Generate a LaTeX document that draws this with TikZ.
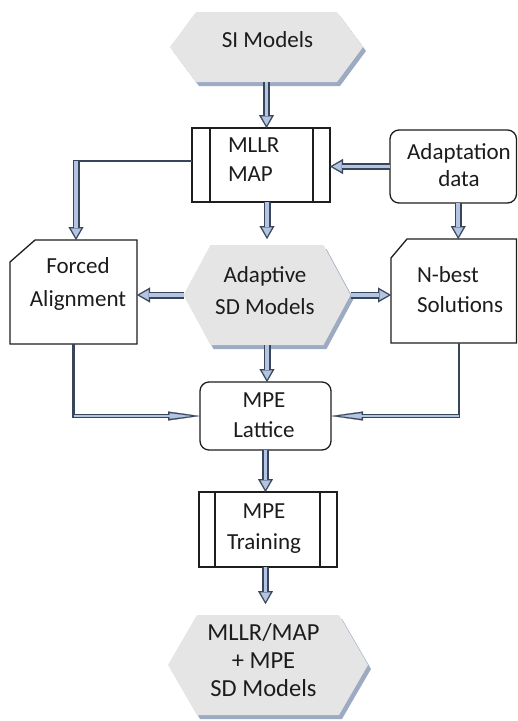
\documentclass[tikz,border=0pt]{standalone}
\usepackage{fontspec}
\setmainfont{Carlito}
\usetikzlibrary{arrows.meta,backgrounds}
\definecolor{arrdark}{HTML}{39465A}
\definecolor{arrfill}{HTML}{B3C5E3}
\definecolor{hexfill}{HTML}{E5E5E5}
\definecolor{hexshadow}{HTML}{9CAAC2}
\definecolor{boxline}{HTML}{1E1E1E}
\definecolor{txtcol}{HTML}{1C1C1C}

\newcommand{\fatarrow}[3][0pt]{%
  \draw[arrout, shorten >=#1] #2 -- #3;
  \draw[arrin, shorten >=#1+2.6pt] #2 -- #3;}
\newcommand{\slimarrow}[2]{%
  \draw[slimout] #1 -- #2;
  \draw[slimin] #1 -- #2;}
\newcommand{\drawhexagon}[2]{%
  \fill[hexshadow] ([shift={(3,4)}]#1.west) -- ([shift={(#2+3,4)}]#1.north west) -- ([shift={(-#2+3,4)}]#1.north east) -- ([shift={(3,4)}]#1.east) -- ([shift={(-#2+3,4)}]#1.south east) -- ([shift={(#2+3,4)}]#1.south west) -- cycle;
  \fill[hexfill] (#1.west) -- ([shift={(#2,0)}]#1.north west) -- ([shift={(-#2,0)}]#1.north east) -- (#1.east) -- ([shift={(-#2,0)}]#1.south east) -- ([shift={(#2,0)}]#1.south west) -- cycle;}

\begin{document}
\begin{tikzpicture}[x=1pt,y=-1pt,
  every node/.style={inner sep=0pt, outer sep=0pt},
  txt/.style={font=\fontsize{23}{#1}\selectfont, text=txtcol, align=center},
  txt/.default=30pt,
  bigtxt/.style={font=\fontsize{24.5}{#1}\selectfont, text=txtcol, align=center},
  procbox/.style={draw=boxline, line width=1.3pt},
  roundbox/.style={draw=boxline, line width=1.3pt, rounded corners=9pt},
  boxedge/.style={draw=boxline, line width=1.3pt, line join=miter},
  darkline/.style={draw=arrdark, line width=2.2pt},
  arrout/.style={draw=arrdark, line width=7pt, -{Triangle[width=15pt,length=13pt,line width=0.2pt]}},
  arrin/.style={draw=arrfill, line width=3.6pt, -{Triangle[width=10pt,length=9pt,line width=0.2pt]}},
  slimout/.style={draw=arrdark, line width=4.5pt, shorten <=-1.1pt, -{Triangle[width=9pt,length=32pt,line width=0.2pt]}},
  slimin/.style={draw=arrfill, line width=1.8pt, shorten >=8.5pt, -{Triangle[width=5.5pt,length=22pt,line width=0.2pt]}},
]
\useasboundingbox (0,0) rectangle (518,721);

% nodes
\node[minimum width=193pt, minimum height=70pt, label={[txt, shift={(1,-7)}]center:SI Models}] (si) at (266.5,47) {};
\node[procbox, minimum width=138pt, minimum height=74pt, label={[txt=29pt, align=left, anchor=west, shift={(36,-5.5)}]west:MLLR\\MAP}] (mllr) at (261,165) {};
\node[roundbox, minimum width=126.5pt, minimum height=73pt, label={[txt=27pt, shift={(5.75,-1)}]center:Adaptation\\data}] (adapt) at (453.25,166.5) {};
\node[minimum width=127pt, minimum height=104pt, label={[txt=33pt, shift={(4.5,-8.5)}]center:Forced\\Alignment}] (forced) at (73.5,292) {};
\node[minimum width=167pt, minimum height=100pt, label={[txt=32pt, shift={(-2,-4)}]center:Adaptive\\SD Models}] (adsd) at (267,295) {};
\node[minimum width=125.5pt, minimum height=104pt, label={[txt=30pt, align=left, anchor=west, shift={(26,-1)}]west:N-best\\Solutions}] (nbest) at (453.75,291) {};
\node[roundbox, minimum width=131pt, minimum height=68pt, label={[txt=30pt, shift={(-1.5,-1)}]center:MPE\\Lattice}] (lattice) at (265.5,416) {};
\node[procbox, minimum width=138pt, minimum height=75pt, label={[txt=31pt, shift={(-4,-0.5)}]center:MPE\\Training}] (train) at (268,529.5) {};
\node[minimum width=200pt, minimum height=100pt, label={[bigtxt=28pt, shift={(-4.5,-5)}]center:MLLR/MAP\\+ MPE\\SD Models}] (final) at (268,665) {};

% card outlines
\draw[boxedge] ([shift={(0,22)}]forced.north west) -- ([shift={(25,0)}]forced.north west) -- (forced.north east) -- (forced.south east) -- (forced.south west) -- cycle;
\draw[boxedge] ([shift={(0,19)}]nbest.north west) -- ([shift={(16,0)}]nbest.north west) -- (nbest.north east) -- (nbest.south east) -- (nbest.south west) -- cycle;

% process bars
\draw[boxedge] ([shift={(18,0)}]mllr.north west) -- ([shift={(18,0)}]mllr.south west);
\draw[boxedge] ([shift={(-17,0)}]mllr.north east) -- ([shift={(-17,0)}]mllr.south east);
\draw[boxedge] ([shift={(16,0)}]train.north west) -- ([shift={(16,0)}]train.south west);
\draw[boxedge] ([shift={(-17,0)}]train.north east) -- ([shift={(-17,0)}]train.south east);

\begin{scope}[on background layer]
  \fill[white] (0,0) rectangle (518,721);
  \drawhexagon{si}{26}
  \drawhexagon{adsd}{27}
  \drawhexagon{final}{29}
\end{scope}

% connectors
\fatarrow{(si.south)}{(si.south |- mllr.north)}
\fatarrow{(adapt.west)}{(adapt.west -| mllr.east)}
\fatarrow[6pt]{(adsd.north |- mllr.south)}{(adsd.north)}
\coordinate (a4) at ([xshift=5pt]adapt.south);
\fatarrow{(a4)}{(a4 |- nbest.north)}
\fatarrow{(adsd.west)}{(adsd.west -| forced.east)}
\fatarrow{(adsd.east)}{(adsd.east -| nbest.west)}
\coordinate (c1) at (76,161);
\draw[darkline] (c1 -| mllr.west) -- (c1);
\draw[arrout, shorten <=-1.5pt] (c1) -- (c1 |- forced.north);
\draw[arrin, shorten >=2.6pt] (c1) -- (c1 |- forced.north);
\fatarrow{(adsd.south)}{(adsd.south |- lattice.north)}
\coordinate (c2) at (forced.south |- lattice.west);
\draw[darkline] (forced.south) -- (c2);
\slimarrow{(c2)}{(lattice.west)}
\coordinate (c3) at (459,416);
\draw[darkline] (c3 |- nbest.south) -- (c3);
\slimarrow{(c3)}{(lattice.east)}
\fatarrow{(lattice.south)}{(lattice.south |- train.north)}
\fatarrow[11pt]{(lattice.south |- train.south)}{(lattice.south |- final.north)}
\end{tikzpicture}
\end{document}
